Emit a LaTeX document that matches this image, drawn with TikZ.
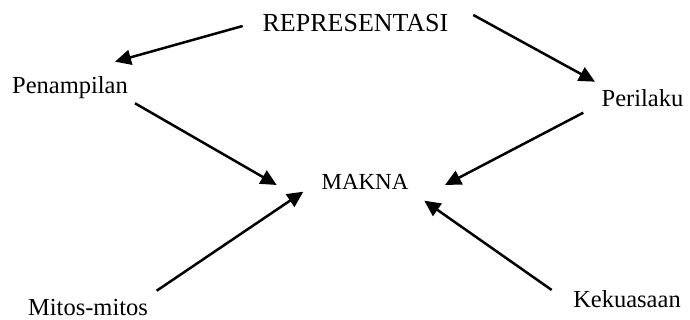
\documentclass[tikz,border=0pt]{standalone}
\usepackage{fontspec}
\setmainfont{Liberation Serif}
\usetikzlibrary{arrows.meta}
\begin{document}
\begin{tikzpicture}[x=1pt,y=1pt,
  lbl/.style={anchor=base,inner sep=0pt,font=\fontsize{24.5}{29}\selectfont},
  lblbig/.style={anchor=base,inner sep=0pt,font=\fontsize{26}{31}\selectfont},
  lblsmall/.style={anchor=base,inner sep=0pt,font=\fontsize{23}{27}\selectfont},
  conn/.style={line width=2.5pt,-{Triangle[length=16pt,width=15pt]}}]
\useasboundingbox (0,0) rectangle (690,320);
\node[lblbig] (rep) at (355.5,288.3) {REPRESENTASI};
\node[lbl] (pen) at (70,226.7) {Penampilan};
\node[lbl] (per) at (642.5,213.3) {Perilaku};
\node[lblsmall] (mak) at (365,130) {MAKNA};
\node[lbl] (mit) at (88,4.3) {Mitos-mitos};
\node[lbl] (kek) at (627,12.7) {Kekuasaan};
\draw[conn] ([shift={(-112.8,5.7)}]rep.base) -- ([shift={(45,31.6)}]pen.base);
\draw[conn] ([shift={(117.8,16.7)}]rep.base) -- ([shift={(-47.5,25)}]per.base);
\draw[conn] ([shift={(65,-10)}]pen.base) -- ([shift={(-88.3,5)}]mak.base);
\draw[conn] ([shift={(-59.2,-6)}]per.base) -- ([shift={(80,5)}]mak.base);
\draw[conn] ([shift={(68.7,25)}]mit.base) -- ([shift={(-61.7,-1.7)}]mak.base);
\draw[conn] ([shift={(-75.3,17.3)}]kek.base) -- ([shift={(59.3,-10.7)}]mak.base);
\end{tikzpicture}
\end{document}
